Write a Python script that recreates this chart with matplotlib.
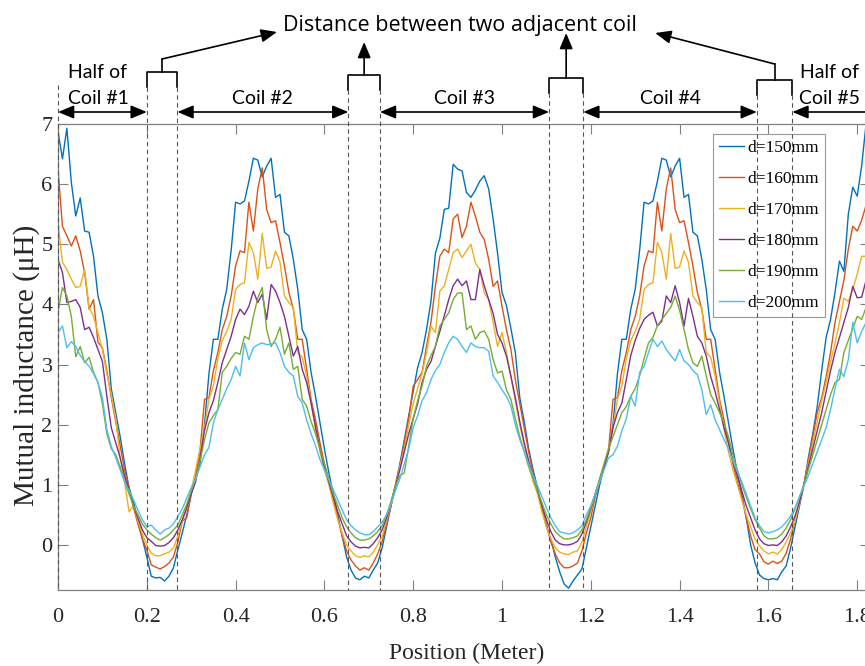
import numpy as np
import matplotlib ; matplotlib.use('Agg')
from matplotlib import pyplot as plt

# Mutual inductance vs position for six coil distances
################################
# position grid (m), one sample every 1 cm
pos = np.round(np.arange(0, 1.825, 0.01), 2)

d150 = [6.88, 6.42, 6.93, 6.03, 5.47, 5.77, 5.22, 5.20, 4.80, 4.14,
        3.86, 3.42, 2.60, 2.20, 1.80, 1.35, 0.95, 0.72, 0.40, 0.10,
        -0.20, -0.52, -0.55, -0.54, -0.60, -0.52, -0.38, -0.08, 0.20, 0.50,
        0.85, 1.10, 1.36, 2.00, 2.85, 3.42, 3.42, 3.92, 4.25, 4.90,
        5.70, 5.67, 5.72, 6.05, 6.43, 6.40, 6.12, 6.30, 6.43, 5.78,
        5.83, 5.20, 5.14, 4.75, 4.25, 3.58, 3.42, 2.87, 2.47, 2.03,
        1.60, 1.20, 0.85, 0.50, 0.15, -0.20, -0.42, -0.55, -0.58, -0.52,
        -0.55, -0.42, -0.30, -0.05, 0.30, 0.65, 1.00, 1.35, 1.75, 2.15,
        2.55, 2.95, 3.20, 3.58, 4.05, 4.85, 5.10, 5.58, 5.60, 6.33,
        6.25, 6.22, 5.86, 5.78, 5.90, 6.05, 6.14, 5.92, 5.42, 4.85,
        4.20, 3.98, 3.60, 3.20, 2.45, 2.05, 1.60, 1.25, 0.95, 0.60,
        0.30, 0.10, -0.20, -0.45, -0.65, -0.72, -0.60, -0.50, -0.40, -0.05,
        0.30, 0.65, 1.00, 1.30, 1.55, 2.00, 2.85, 3.42, 3.42, 3.92,
        4.25, 4.90, 5.70, 5.67, 5.72, 6.05, 6.43, 6.40, 6.12, 6.30,
        6.43, 5.78, 5.83, 5.20, 5.14, 4.75, 4.25, 3.58, 3.42, 2.87,
        2.47, 2.03, 1.60, 1.20, 0.85, 0.45, 0.00, -0.30, -0.50, -0.56,
        -0.58, -0.56, -0.58, -0.45, -0.35, -0.05, 0.30, 0.65, 1.00, 1.45,
        1.85, 2.30, 2.90, 3.45, 3.75, 4.20, 4.72, 4.55, 5.50, 5.95,
        5.80, 6.30, 7.00]

d160 = [6.25, 5.30, 5.14, 4.97, 5.14, 4.89, 4.53, 3.92, 4.08, 3.37,
        3.28, 2.90, 2.45, 2.05, 1.65, 1.25, 0.95, 0.62, 0.35, 0.10,
        -0.08, -0.33, -0.37, -0.40, -0.36, -0.30, -0.20, 0.05, 0.40, 0.45,
        0.85, 1.15, 1.58, 2.42, 2.45, 2.90, 3.20, 3.58, 3.80, 4.14,
        4.64, 4.89, 4.86, 5.70, 5.22, 5.92, 6.27, 5.58, 5.36, 5.39,
        5.03, 4.64, 4.20, 3.92, 3.42, 3.42, 2.92, 2.42, 2.08, 1.70,
        1.35, 1.05, 0.75, 0.45, 0.15, -0.10, -0.25, -0.35, -0.42, -0.38,
        -0.42, -0.30, -0.15, 0.05, 0.35, 0.65, 0.98, 1.30, 1.70, 2.10,
        2.64, 2.75, 2.87, 3.30, 3.70, 4.30, 4.80, 4.92, 4.86, 5.42,
        5.50, 5.11, 5.30, 5.70, 5.47, 5.20, 5.08, 4.75, 4.30, 4.39,
        3.97, 3.58, 3.25, 2.75, 2.35, 1.95, 1.55, 1.20, 0.90, 0.60,
        0.35, 0.05, -0.15, -0.30, -0.38, -0.38, -0.35, -0.30, -0.10, 0.20,
        0.45, 0.80, 1.05, 1.30, 1.58, 2.42, 2.45, 2.90, 3.20, 3.58,
        3.80, 4.14, 4.64, 4.89, 4.86, 5.70, 5.22, 5.92, 6.27, 5.58,
        5.36, 5.39, 5.03, 4.64, 4.20, 3.92, 3.42, 3.42, 2.92, 2.42,
        2.08, 1.70, 1.35, 1.05, 0.80, 0.45, 0.15, -0.08, -0.15, -0.28,
        -0.32, -0.27, -0.31, -0.27, -0.14, 0.10, 0.40, 0.70, 1.00, 1.40,
        1.80, 2.20, 2.45, 2.80, 3.20, 3.70, 4.05, 4.40, 4.92, 5.30,
        5.22, 5.40, 5.65]

d170 = [5.36, 4.70, 4.58, 4.42, 4.28, 4.30, 4.58, 3.95, 3.80, 3.53,
        3.25, 2.85, 2.50, 2.10, 1.45, 1.05, 0.55, 0.65, 0.40, 0.18,
        0.00, -0.14, -0.18, -0.18, -0.15, -0.12, -0.05, 0.15, 0.40, 0.60,
        0.90, 1.25, 1.60, 1.95, 2.42, 2.65, 3.10, 3.40, 3.55, 3.75,
        4.25, 4.33, 4.36, 5.03, 4.86, 4.42, 5.18, 4.60, 4.62, 4.89,
        4.70, 4.14, 4.03, 3.95, 3.20, 3.12, 2.81, 2.36, 1.92, 1.55,
        1.25, 1.00, 0.70, 0.42, 0.20, 0.00, -0.10, -0.18, -0.21, -0.18,
        -0.20, -0.12, 0.00, 0.15, 0.40, 0.70, 1.00, 1.30, 1.60, 2.00,
        2.35, 2.60, 2.85, 3.20, 3.64, 3.53, 4.22, 4.31, 4.58, 4.86,
        4.92, 4.78, 4.89, 5.00, 4.69, 4.58, 4.19, 4.08, 3.70, 3.30,
        3.53, 3.20, 2.80, 2.40, 2.00, 1.65, 1.35, 1.05, 0.85, 0.55,
        0.30, 0.10, -0.05, -0.12, -0.15, -0.16, -0.12, -0.10, 0.05, 0.30,
        0.55, 0.85, 1.10, 1.35, 1.60, 1.95, 2.42, 2.65, 3.10, 3.40,
        3.55, 3.75, 4.25, 4.33, 4.36, 5.03, 4.86, 4.42, 5.18, 4.60,
        4.62, 4.89, 4.70, 4.14, 4.03, 3.95, 3.20, 3.12, 2.81, 2.36,
        1.92, 1.55, 1.25, 1.00, 0.75, 0.50, 0.30, 0.10, -0.02, -0.10,
        -0.15, -0.12, -0.15, -0.08, 0.05, 0.20, 0.40, 0.70, 1.00, 1.35,
        1.70, 2.05, 2.40, 2.70, 3.05, 3.35, 3.70, 4.10, 4.05, 4.25,
        4.50, 4.80, 4.80]

d180 = [4.75, 4.53, 4.03, 4.05, 4.08, 3.95, 3.58, 3.62, 3.45, 3.25,
        3.05, 2.47, 1.95, 1.70, 1.45, 1.15, 0.90, 0.65, 0.45, 0.25,
        0.12, 0.06, -0.01, -0.02, -0.01, 0.04, 0.12, 0.25, 0.42, 0.62,
        0.85, 1.05, 1.45, 1.90, 2.20, 2.40, 2.70, 3.03, 3.25, 3.47,
        3.75, 3.92, 3.83, 3.97, 4.22, 4.03, 4.17, 3.75, 4.33, 4.22,
        4.03, 3.80, 3.47, 3.14, 3.30, 2.92, 2.70, 2.36, 1.97, 1.60,
        1.30, 1.05, 0.80, 0.55, 0.35, 0.15, 0.05, -0.02, -0.05, -0.04,
        -0.05, 0.02, 0.12, 0.25, 0.45, 0.70, 0.98, 1.25, 1.55, 1.85,
        2.10, 2.35, 2.70, 2.92, 3.05, 3.30, 3.55, 3.81, 4.08, 4.31,
        4.42, 4.31, 4.39, 4.08, 4.08, 4.58, 4.31, 4.08, 3.85, 3.50,
        3.36, 3.14, 2.81, 2.45, 2.05, 1.70, 1.40, 1.15, 0.90, 0.65,
        0.42, 0.22, 0.08, 0.02, 0.00, 0.00, 0.02, 0.06, 0.18, 0.38,
        0.60, 0.85, 1.08, 1.30, 1.55, 1.95, 2.20, 2.36, 2.75, 3.15,
        3.40, 3.60, 3.75, 3.82, 3.87, 3.64, 3.72, 4.14, 4.03, 4.31,
        4.03, 3.64, 4.10, 3.80, 3.47, 3.36, 3.14, 2.80, 2.55, 2.25,
        1.95, 1.70, 1.40, 1.15, 0.90, 0.65, 0.45, 0.25, 0.10, 0.02,
        -0.01, 0.00, -0.01, 0.05, 0.15, 0.30, 0.48, 0.72, 1.00, 1.30,
        1.60, 1.90, 2.20, 2.55, 2.90, 3.20, 3.45, 3.70, 3.95, 4.30,
        4.11, 4.12, 4.40]

d190 = [3.87, 4.28, 4.14, 3.80, 3.13, 3.30, 3.03, 3.12, 2.87, 2.70,
        2.35, 1.85, 1.60, 1.50, 1.30, 1.05, 0.85, 0.65, 0.50, 0.35,
        0.25, 0.18, 0.12, 0.08, 0.12, 0.17, 0.25, 0.33, 0.50, 0.68,
        0.90, 1.10, 1.40, 1.75, 2.03, 2.15, 2.25, 2.87, 2.97, 3.10,
        3.20, 3.17, 3.47, 3.42, 3.80, 4.11, 4.28, 3.58, 3.30, 3.42,
        3.62, 3.17, 3.36, 2.92, 2.97, 2.42, 2.31, 2.05, 1.85, 1.60,
        1.35, 1.10, 0.85, 0.65, 0.45, 0.30, 0.20, 0.12, 0.08, 0.08,
        0.10, 0.15, 0.22, 0.32, 0.50, 0.72, 0.98, 1.15, 1.20, 1.65,
        2.10, 2.40, 2.64, 2.97, 3.15, 3.30, 3.64, 3.75, 3.86, 4.08,
        4.19, 4.19, 3.58, 3.64, 3.42, 3.53, 3.56, 3.42, 3.08, 2.86,
        2.89, 2.58, 2.42, 2.10, 1.80, 1.55, 1.30, 1.10, 0.90, 0.70,
        0.50, 0.35, 0.22, 0.15, 0.10, 0.10, 0.12, 0.15, 0.25, 0.42,
        0.62, 0.85, 1.10, 1.35, 1.60, 1.80, 2.00, 2.20, 2.30, 2.47,
        2.60, 2.81, 3.10, 3.36, 3.45, 3.65, 3.75, 3.85, 3.95, 4.14,
        3.90, 3.58, 3.25, 3.03, 2.97, 3.14, 2.81, 2.50, 2.36, 2.20,
        2.03, 1.80, 1.50, 1.25, 1.00, 0.80, 0.60, 0.42, 0.28, 0.15,
        0.10, 0.10, 0.12, 0.18, 0.28, 0.42, 0.60, 0.80, 1.00, 1.25,
        1.50, 1.75, 2.00, 2.25, 2.50, 2.70, 2.75, 3.20, 3.40, 3.60,
        3.80, 3.75, 3.95]

d200 = [3.53, 3.64, 3.28, 3.38, 3.30, 3.15, 3.05, 2.97, 2.85, 2.70,
        2.45, 1.92, 1.64, 1.45, 1.25, 1.05, 0.90, 0.75, 0.58, 0.42,
        0.30, 0.33, 0.25, 0.18, 0.25, 0.28, 0.35, 0.47, 0.60, 0.78,
        0.95, 1.10, 1.30, 1.50, 1.62, 2.03, 2.25, 2.42, 2.60, 2.75,
        2.97, 2.81, 3.36, 3.08, 3.28, 3.33, 3.36, 3.33, 3.34, 3.36,
        3.20, 2.97, 2.87, 2.81, 2.47, 2.36, 2.08, 1.85, 1.65, 1.42,
        1.25, 1.08, 0.92, 0.75, 0.58, 0.42, 0.32, 0.25, 0.20, 0.17,
        0.17, 0.22, 0.30, 0.38, 0.50, 0.68, 0.90, 1.10, 1.35, 1.60,
        1.95, 2.15, 2.40, 2.53, 2.75, 2.90, 3.00, 3.20, 3.36, 3.47,
        3.42, 3.30, 3.20, 3.36, 3.30, 3.28, 3.28, 3.22, 2.81, 2.70,
        2.58, 2.47, 2.31, 2.00, 1.75, 1.55, 1.35, 1.15, 0.98, 0.80,
        0.62, 0.45, 0.32, 0.22, 0.20, 0.18, 0.20, 0.25, 0.32, 0.50,
        0.65, 0.85, 1.05, 1.25, 1.45, 1.50, 1.64, 1.90, 2.10, 2.47,
        2.31, 2.87, 2.97, 3.20, 3.42, 3.30, 3.39, 3.25, 3.15, 3.06,
        3.25, 3.06, 3.00, 2.90, 2.83, 2.58, 2.17, 2.33, 2.08, 1.92,
        1.75, 1.60, 1.40, 1.22, 1.05, 0.85, 0.65, 0.45, 0.32, 0.22,
        0.20, 0.22, 0.25, 0.30, 0.38, 0.48, 0.62, 0.80, 0.98, 1.15,
        1.35, 1.55, 1.75, 1.95, 2.25, 2.60, 2.92, 2.80, 3.08, 3.70,
        3.36, 3.55, 3.70]

labels = ['d=150mm', 'd=160mm', 'd=170mm', 'd=180mm', 'd=190mm', 'd=200mm']
colors = ['#0072BD', '#D95319', '#EDB120', '#7E2F8E', '#77AC30', '#4DBEEE']

# gaps between adjacent coils (m) and height of the bracket above each (px from top)
gaps = [(0.200, 0.269), (0.654, 0.725), (1.106, 1.183), (1.574, 1.654)]
gap_top = [72, 75, 78, 80]
xticks = [0, 0.2, 0.4, 0.6, 0.8, 1.0, 1.2, 1.4, 1.6, 1.8]

################################
plt.rcParams['font.family'] = ['Liberation Serif', 'DejaVu Serif']
W, H = 865, 666
fig = plt.figure(figsize=(W/100., H/100.), dpi=100)
ax = fig.add_axes([58/W, 76/H, 812/W, 466/H])

for vals, lab, col in zip([d150, d160, d170, d180, d190, d200], labels, colors):
    ax.plot(pos, vals, color=col, lw=1.0, label=lab)

xmax = 812/444.
ax.set_xlim(0, xmax) ; ax.set_ylim(-0.75, 7.0)
ax.set_xticks(xticks)
ax.set_xticklabels(['%g' % t for t in xticks])
ax.set_yticks(range(0, 8))
ax.tick_params(direction='in', length=7, width=0.8, color='#808080',
               top=True, right=True, labelsize=16, labelcolor='#262626')
ax.tick_params(axis='x', pad=13)
ax.tick_params(axis='y', pad=4)
for sp in ax.spines.values():
    sp.set_color('#808080') ; sp.set_linewidth(0.9)

ax.set_xlabel('Position (Meter)', fontsize=17, color='#262626')
ax.set_ylabel('Mutual inductance (μH)', fontsize=21, color='#262626')
ax.xaxis.set_label_coords((467-58)/812., -(643-590)/466.)
ax.yaxis.set_label_coords((40-58)/812., (590-365)/466.)

leg = ax.legend(loc='upper left', bbox_to_anchor=(713/W, 1-134/H),
                bbox_transform=fig.transFigure, fancybox=False, framealpha=1,
                edgecolor='#999999', borderaxespad=0, borderpad=0.35,
                handlelength=1.45, handletextpad=0.2, labelspacing=0.85,
                prop={'size': 12.5})
leg.get_frame().set_linewidth(0.8)

# overlay for the coil annotations: x in metres, y in pixels from the top
ann = fig.add_axes([58/W, 0, 812/W, 1])
ann.set_xlim(0, xmax) ; ann.set_ylim(H, 0) ; ann.axis('off')

afont = dict(family='Lato', fontsize=14, color='k')
arr = dict(arrowstyle='-|>,head_length=0.6,head_width=0.25', color='k', lw=1.2,
           mutation_scale=16, shrinkA=0, shrinkB=0)
darr = dict(arr, arrowstyle='<|-|>,head_length=0.6,head_width=0.25')
yarrow = 112
ybot = 590

ann.plot([0, 0], [85, ybot], ls='--', color='#555555', lw=0.8, dashes=(4, 3), clip_on=False)
for (a, b), top in zip(gaps, gap_top):
    ann.plot([a, a, b, b], [top+15, top, top, top+15], color='k', lw=1.2, clip_on=False)
    for xb in (a, b):
        ann.plot([xb, xb], [top+15, ybot], ls='--', color='#555555', lw=0.8,
                 dashes=(4, 3), clip_on=False)

# coil spans
spans = [(0, gaps[0][0])] + [(gaps[i][1], gaps[i+1][0]) for i in range(3)]
for a, b in spans:
    ann.annotate('', xy=(b, yarrow), xytext=(a, yarrow), arrowprops=darr, annotation_clip=False)
ann.annotate('', xy=(gaps[3][1], yarrow), xytext=(xmax, yarrow), arrowprops=arr, annotation_clip=False)

ann.text(0.09, 72, 'Half of', ha='center', va='center', **afont)
ann.text(0.09, 99, 'Coil #1', ha='center', va='center', **afont)
for (a, b), lab in zip(spans[1:], ['Coil #2', 'Coil #3', 'Coil #4']):
    ann.text((a+b)/2., 98, lab, ha='center', va='center', **afont)
ann.text(1.737, 72, 'Half of', ha='center', va='center', **afont)
ann.text(1.737, 99, 'Coil #5', ha='center', va='center', **afont)
ann.text(0.905, 25, 'Distance between two adjacent coil', ha='center', va='center',
         family='Open Sans', fontsize=15.5, color='k')

# stems from the gap brackets to the caption
c = [(a+b)/2. for a, b in gaps]
ann.plot([c[0], c[0]], [gap_top[0], 59], color='k', lw=1.2)
ann.annotate('', xy=(0.493, 32), xytext=(c[0], 59), arrowprops=arr, annotation_clip=False)
ann.annotate('', xy=(c[1], 42), xytext=(c[1], gap_top[1]), arrowprops=arr, annotation_clip=False)
ann.annotate('', xy=(c[2], 33), xytext=(c[2], gap_top[2]), arrowprops=arr, annotation_clip=False)
ann.plot([c[3], c[3]], [gap_top[3], 64], color='k', lw=1.2)
ann.annotate('', xy=(1.345, 33), xytext=(c[3], 64), arrowprops=arr, annotation_clip=False)

plt.savefig('out.png', dpi=100)
print('Output: out.png')
